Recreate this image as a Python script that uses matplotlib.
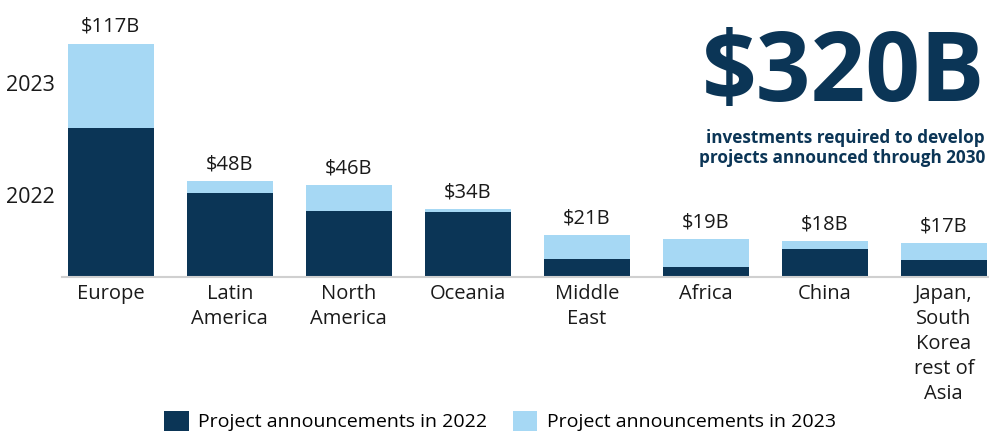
import numpy as np
import matplotlib.pyplot as plt

plt.rcParams['font.family'] = ['Open Sans', 'DejaVu Sans']

regions = ['Europe', 'Latin\nAmerica', 'North\nAmerica', 'Oceania', 'Middle\nEast',
           'Africa', 'China', 'Japan,\nSouth\nKorea\nrest of\nAsia']
y2022 = [75, 42, 33, 32.5, 9, 5, 14, 8.5]
y2023 = [42, 6, 13, 1.5, 12, 14, 4, 8.5]
totals = ['$117B', '$48B', '$46B', '$34B', '$21B', '$19B', '$18B', '$17B']

dark = '#0b3556'
light = '#a6d8f4'

fig = plt.figure(figsize=(9.89, 4.32), dpi=100)
ax = fig.add_axes([62/989, 155/432, 927/989, 277/432])

x = np.arange(len(regions))
ax.bar(x, y2022, width=0.72, color=dark, label='Project announcements in 2022')
ax.bar(x, y2023, width=0.72, bottom=y2022, color=light, label='Project announcements in 2023')

for xi, a, b, t in zip(x, y2022, y2023, totals):
    ax.annotate(t, (xi, a + b), xytext=(0, 5), textcoords='offset points',
                ha='center', va='bottom', fontsize=14.5, color='#1a1a1a')

ax.set_xlim(-0.41, 7.38)
ax.set_ylim(0, 139)
ax.set_xticks(x)
ax.set_xticklabels(regions, fontsize=14.5, color='#1a1a1a', va='top', linespacing=1.33)
ax.tick_params(axis='x', length=0, pad=5)
ax.set_yticks([41, 97.5])
ax.set_yticklabels(['2022', '2023'], fontsize=15.5, color='#1a1a1a')
ax.tick_params(axis='y', length=0, pad=5)
for s in ['top', 'right', 'left']:
    ax.spines[s].set_visible(False)
ax.spines['bottom'].set_color('#d0d0d0')
ax.spines['bottom'].set_linewidth(1.5)

fig.text(985/989, 1 - 75/432, '$320B', ha='right', va='center', fontsize=69,
         fontweight='bold', color=dark)
fig.text(985/989, 1 - 148/432, 'investments required to develop\nprojects announced through 2030',
         ha='right', va='center', fontsize=12.3, fontweight='bold', color=dark,
         linespacing=1.1)

fig.legend(loc='center', bbox_to_anchor=(500/989, 1 - 421/432), ncol=2, frameon=False,
           fontsize=14, handlelength=1.25, handleheight=1.25, columnspacing=1.3,
           handletextpad=0.5)

fig.savefig('out.png', dpi=100)
